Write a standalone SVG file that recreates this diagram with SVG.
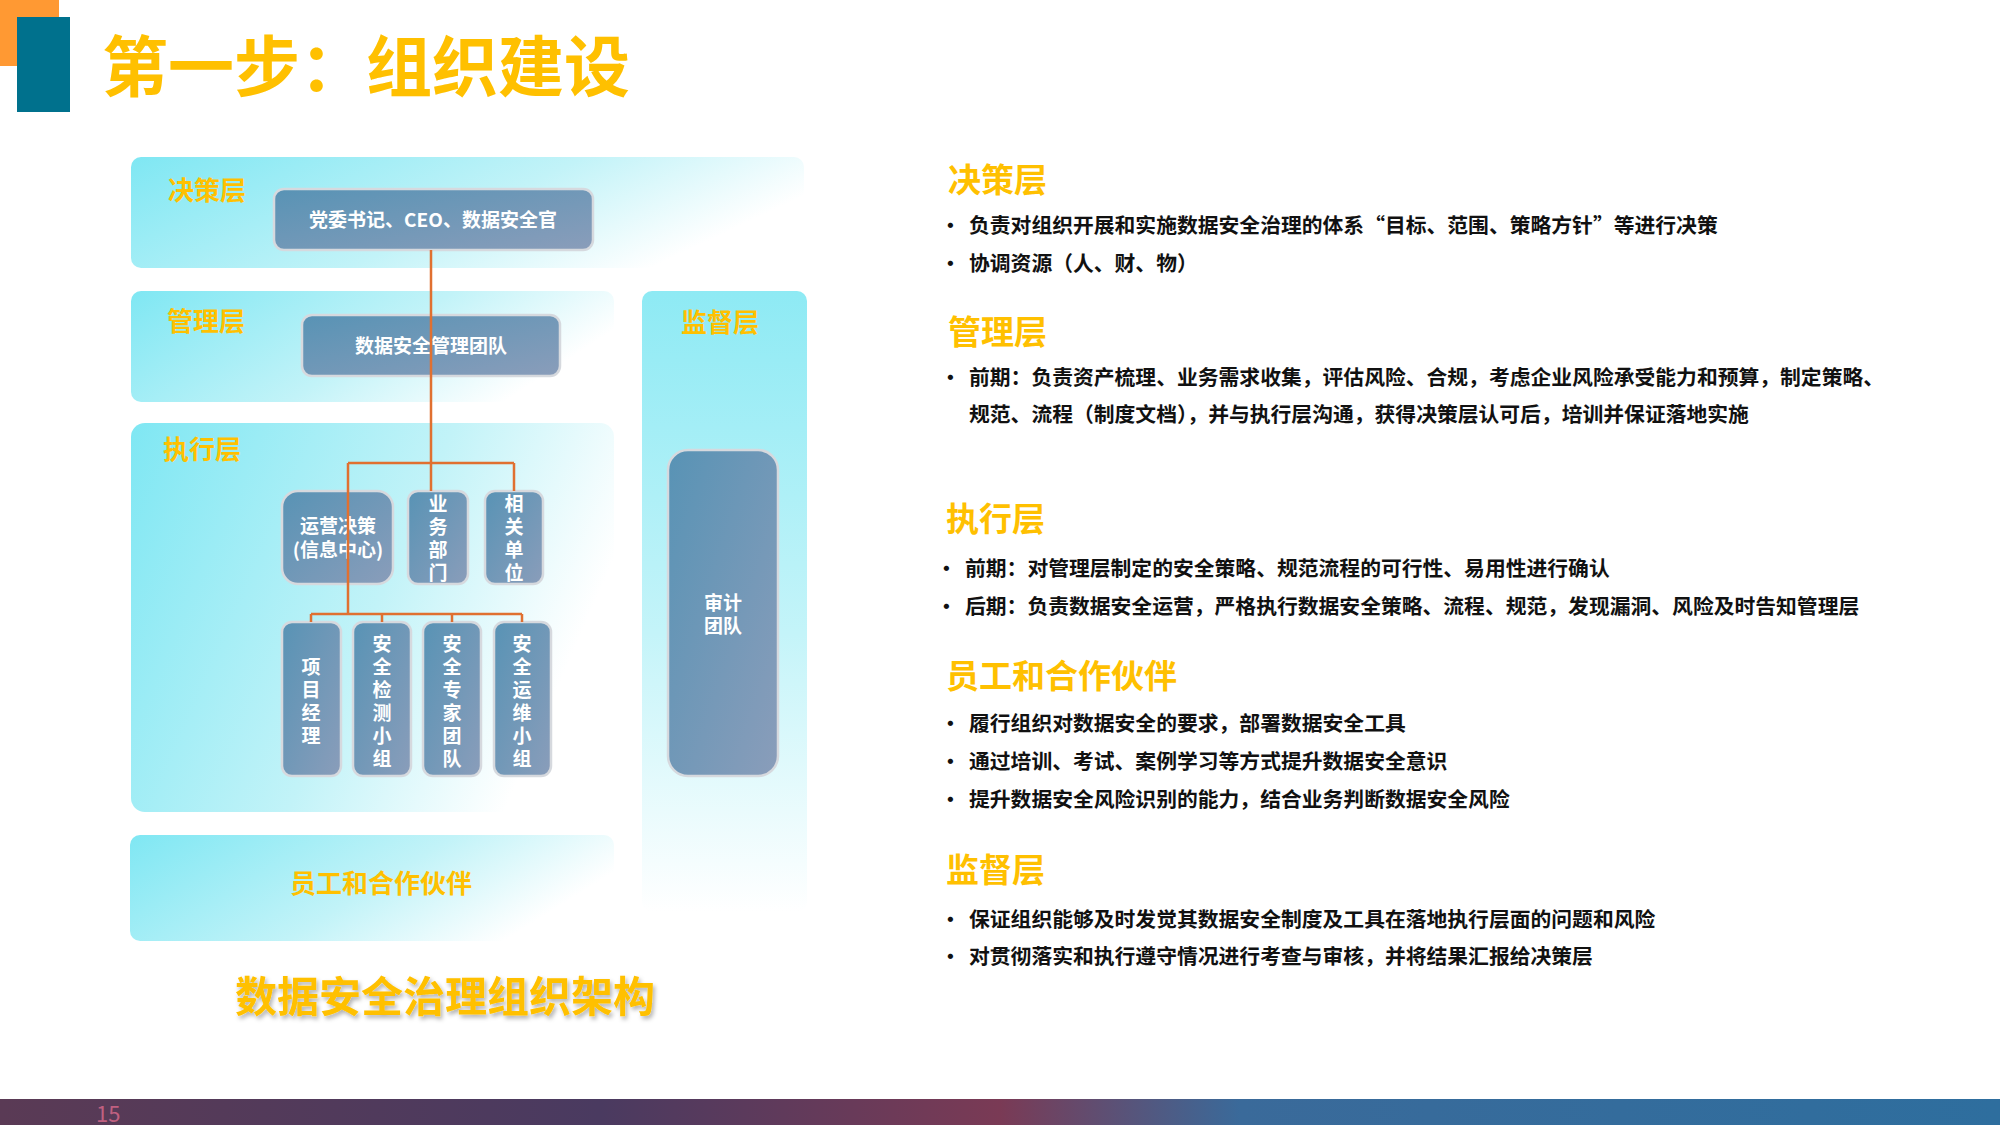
<svg xmlns="http://www.w3.org/2000/svg" width="2000" height="1125" viewBox="0 0 2000 1125">
<defs>
<linearGradient id="band" x1="0" y1="0" x2="1" y2="0.35"><stop offset="0" stop-color="#7FE7F3"/><stop offset="0.6" stop-color="#C2F3F8"/><stop offset="1" stop-color="#FFFFFF"/></linearGradient>
<linearGradient id="vband" x1="0" y1="0" x2="0" y2="1"><stop offset="0" stop-color="#8EEAF4"/><stop offset="0.55" stop-color="#C4F4F9"/><stop offset="1" stop-color="#FFFFFF"/></linearGradient>
<linearGradient id="node" x1="0" y1="0" x2="1" y2="1"><stop offset="0" stop-color="#5893B5"/><stop offset="1" stop-color="#8A9DBA"/></linearGradient>
<linearGradient id="foot" x1="0" y1="0" x2="1" y2="0"><stop offset="0" stop-color="#5A3A55"/><stop offset="0.3" stop-color="#4A3A60"/><stop offset="0.5" stop-color="#7A3A55"/><stop offset="0.62" stop-color="#3A6A9A"/><stop offset="1" stop-color="#2E6E9E"/></linearGradient>
<filter id="sh"><feDropShadow dx="2" dy="3" stdDeviation="2" flood-color="#000" flood-opacity="0.3"/></filter>
</defs>
<style>
text{font-family:"Noto Sans CJK SC","Liberation Sans",sans-serif}
.lbl{fill:#FFC000;font-size:26px;font-weight:bold}
.nd{fill:url(#node);stroke:#D6D9DE;stroke-width:2.5}
.nt{fill:#fff;font-size:19px;font-weight:bold;text-anchor:middle}
.con{stroke:#E07030;stroke-width:2.5;fill:none}
.h{fill:#FFC000;font-size:33px;font-weight:bold}
.b{fill:#111;font-size:20.8px;font-weight:bold}
</style>
<rect x="0" y="0" width="59" height="66" fill="#FF9933"/>
<rect x="17" y="17" width="53" height="95" fill="#00718D"/>
<text x="102" y="91" style="fill:#FFC000;font-size:66px;font-weight:bold">第一步：组织建设</text>

<rect x="131" y="157" width="673" height="111" rx="10" fill="url(#band)"/>
<rect x="131" y="291" width="483" height="111" rx="10" fill="url(#band)"/>
<rect x="131" y="423" width="483" height="389" rx="14" fill="url(#band)"/>
<rect x="130" y="835" width="484" height="106" rx="10" fill="url(#band)"/>
<rect x="642" y="291" width="165" height="621" rx="10" fill="url(#vband)"/>
<text class="lbl" x="168" y="200">决策层</text>
<text class="lbl" x="167" y="331">管理层</text>
<text class="lbl" x="163" y="459">执行层</text>
<text class="lbl" x="681" y="332">监督层</text>
<text class="lbl" x="381" y="893" text-anchor="middle">员工和合作伙伴</text>

<g id="n1"><rect class="nd" x="274" y="189" width="319" height="61" rx="10"/><text class="nt" x="433" y="227">党委书记、CEO、数据安全官</text></g>
<g id="n2"><rect class="nd" x="302" y="315" width="258" height="61" rx="10"/><text class="nt" x="431" y="353">数据安全管理团队</text></g>
<g id="n3"><rect class="nd" x="282" y="491" width="111" height="93" rx="16"/><text class="nt" x="338" y="533">运营决策</text><text class="nt" x="338" y="557">(信息中心)</text></g>
<g id="n4"><rect class="nd" x="408" y="491" width="60" height="93" rx="10"/><text class="nt" x="438" y="511">业</text><text class="nt" x="438" y="534">务</text><text class="nt" x="438" y="557">部</text><text class="nt" x="438" y="580">门</text></g>
<g id="n5"><rect class="nd" x="485" y="491" width="58" height="93" rx="10"/><text class="nt" x="514" y="511">相</text><text class="nt" x="514" y="534">关</text><text class="nt" x="514" y="557">单</text><text class="nt" x="514" y="580">位</text></g>
<g id="n6"><rect class="nd" x="282" y="622" width="59" height="154" rx="10"/><text class="nt" x="311" y="674">项</text><text class="nt" x="311" y="697">目</text><text class="nt" x="311" y="720">经</text><text class="nt" x="311" y="743">理</text></g>
<g id="n7"><rect class="nd" x="353" y="622" width="58" height="154" rx="10"/><text class="nt" x="382" y="651">安</text><text class="nt" x="382" y="674">全</text><text class="nt" x="382" y="697">检</text><text class="nt" x="382" y="720">测</text><text class="nt" x="382" y="743">小</text><text class="nt" x="382" y="766">组</text></g>
<g id="n8"><rect class="nd" x="423" y="622" width="58" height="154" rx="10"/><text class="nt" x="452" y="651">安</text><text class="nt" x="452" y="674">全</text><text class="nt" x="452" y="697">专</text><text class="nt" x="452" y="720">家</text><text class="nt" x="452" y="743">团</text><text class="nt" x="452" y="766">队</text></g>
<g id="n9"><rect class="nd" x="494" y="622" width="57" height="154" rx="10"/><text class="nt" x="522" y="651">安</text><text class="nt" x="522" y="674">全</text><text class="nt" x="522" y="697">运</text><text class="nt" x="522" y="720">维</text><text class="nt" x="522" y="743">小</text><text class="nt" x="522" y="766">组</text></g>
<g id="n10"><rect class="nd" x="668" y="450" width="110" height="326" rx="20"/><text class="nt" x="723" y="610">审计</text><text class="nt" x="723" y="633">团队</text></g>

<g id="connectors">
<path class="con" d="M431 250V491M348 463H514M348 463V614M514 463V491M311 614H522M311 614V622M382 614V622M452 614V622M522 614V622"/>
</g>

<text x="445" y="1012" text-anchor="middle" filter="url(#sh)" style="fill:#FFC000;font-size:42px;font-weight:bold">数据安全治理组织架构</text>

<g>
<text class="h" x="948" y="192">决策层</text>
<text class="b" x="940" y="233">•</text><text class="b" x="969" y="233">负责对组织开展和实施数据安全治理的体系“目标、范围、策略方针”等进行决策</text>
<text class="b" x="940" y="271">•</text><text class="b" x="969" y="271">协调资源（人、财、物）</text>
<text class="h" x="948" y="344">管理层</text>
<text class="b" x="940" y="385">•</text><text class="b" x="969" y="385">前期：负责资产梳理、业务需求收集，评估风险、合规，考虑企业风险承受能力和预算，制定策略、</text>
<text class="b" x="969" y="422">规范、流程（制度文档），并与执行层沟通，获得决策层认可后，培训并保证落地实施</text>
<text class="h" x="946" y="531">执行层</text>
<text class="b" x="936" y="576">•</text><text class="b" x="965" y="576">前期：对管理层制定的安全策略、规范流程的可行性、易用性进行确认</text>
<text class="b" x="936" y="614">•</text><text class="b" x="965" y="614">后期：负责数据安全运营，严格执行数据安全策略、流程、规范，发现漏洞、风险及时告知管理层</text>
<text class="h" x="946" y="688">员工和合作伙伴</text>
<text class="b" x="940" y="731">•</text><text class="b" x="969" y="731">履行组织对数据安全的要求，部署数据安全工具</text>
<text class="b" x="940" y="769">•</text><text class="b" x="969" y="769">通过培训、考试、案例学习等方式提升数据安全意识</text>
<text class="b" x="940" y="807">•</text><text class="b" x="969" y="807">提升数据安全风险识别的能力，结合业务判断数据安全风险</text>
<text class="h" x="946" y="882">监督层</text>
<text class="b" x="940" y="927">•</text><text class="b" x="969" y="927">保证组织能够及时发觉其数据安全制度及工具在落地执行层面的问题和风险</text>
<text class="b" x="940" y="964">•</text><text class="b" x="969" y="964">对贯彻落实和执行遵守情况进行考查与审核，并将结果汇报给决策层</text>
</g>

<rect x="0" y="1099" width="2000" height="26" fill="url(#foot)"/>
<text x="96" y="1122" style="fill:#C06080;font-size:22px">15</text>
</svg>
